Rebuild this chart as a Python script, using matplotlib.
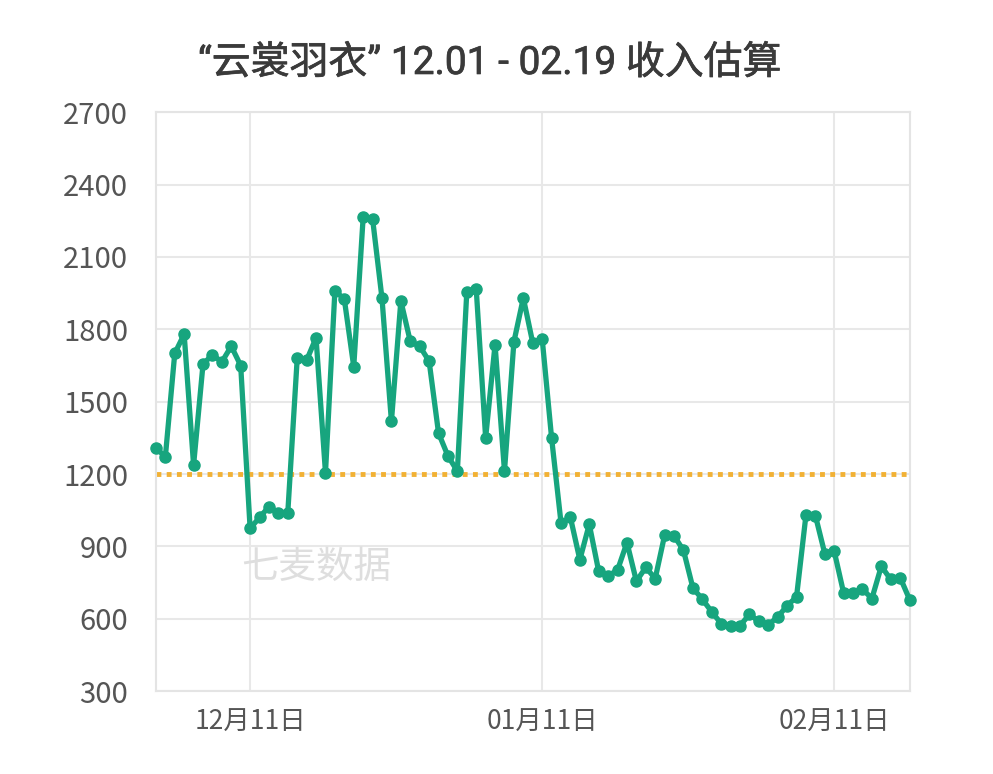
import matplotlib.pyplot as plt
import matplotlib.patheffects as pe
import numpy as np

plt.rcParams['font.family'] = ['Noto Sans CJK SC', 'DejaVu Sans']

title = "“云裳羽衣” 12.01 - 02.19 收入估算"
# daily income estimate, 12.01 .. 02.19
income = [
    1310, 1270, 1700, 1780, 1237, 1655, 1695, 1665, 1730, 1650,
    975, 1020, 1065, 1040, 1040, 1680, 1672, 1765, 1205, 1960,
    1925, 1645, 2265, 2258, 1928, 1418, 1918, 1750, 1730, 1668,
    1370, 1275, 1212, 1955, 1968, 1350, 1737, 1212, 1748, 1930,
    1744, 1762, 1350, 998, 1020, 845, 992, 797, 778, 802,
    916, 756, 813, 767, 947, 944, 884, 728, 681, 629,
    580, 572, 572, 618, 590, 575, 608, 654, 691, 1030,
    1028, 870, 880, 707, 705, 723, 684, 818, 763, 771,
    680,
]
average = 1200
tickDays = [10, 41, 72]
tickLabels = ["12月11日", "01月11日", "02月11日"]
yTicks = [300, 600, 900, 1200, 1500, 1800, 2100, 2400, 2700]


def main():
    days = np.arange(len(income))
    fig = plt.figure(figsize=(9.93, 7.74), dpi=100)
    ax = fig.add_axes([0.157, 0.107, 0.759, 0.748])

    ax.axhline(average, color="#f2b134", linewidth=3.5, linestyle=(0, (1, 1.1)), zorder=2)
    ax.plot(days, income, color="#17a57e", linewidth=3.8, marker="o",
            markersize=8, zorder=3, clip_on=False)

    ax.set_xlim(0, len(income) - 1)
    ax.set_ylim(300, 2700)
    ax.set_yticks(yTicks)
    ax.set_xticks(tickDays)
    ax.set_xticklabels(tickLabels)
    ax.grid(True, color="#e8e8e8", linewidth=1.5)
    ax.set_axisbelow(True)
    for spine in ax.spines.values():
        spine.set_color("#e4e4e4")
        spine.set_linewidth(1.5)
    ax.tick_params(axis="y", length=0, pad=20, labelsize=21, labelcolor="#555555")
    ax.tick_params(axis="x", length=0, pad=13, labelsize=19, labelcolor="#555555")

    ax.text(0.212, 0.214, "七麦数据", transform=ax.transAxes, fontsize=27,
            color="#dedede", ha="center", va="center", zorder=1)

    fig.text(0.493, 0.918, title, fontsize=28, family=['Roboto', 'Noto Sans CJK SC'],
             color="#3a3a3a", ha="center", va="center",
             path_effects=[pe.withStroke(linewidth=0.5, foreground="#3a3a3a")])

    fig.savefig("out.png", dpi=100)


if __name__ == "__main__":
    main()
